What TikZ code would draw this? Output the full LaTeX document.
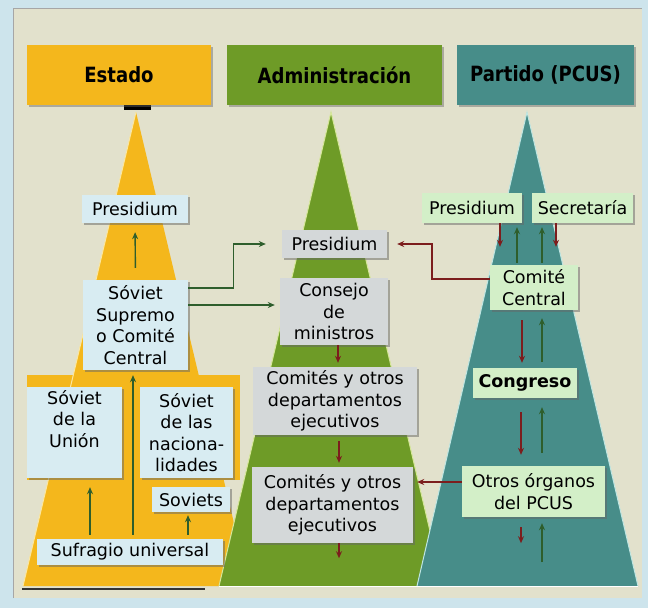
\documentclass[tikz,border=0pt]{standalone}
\usepackage{fontspec}
\setmainfont{DejaVu Sans}
\newfontfamily\hdrfont{DejaVu Sans}[FakeStretch=0.86]
\usetikzlibrary{arrows.meta,shadows,calc}
\definecolor{bgblue}{HTML}{CDE4EC}
\definecolor{panel}{HTML}{E2E1CC}
\definecolor{estyel}{HTML}{F4B71C}
\definecolor{admgrn}{HTML}{6E9B27}
\definecolor{parteal}{HTML}{478D89}
\definecolor{boxblue}{HTML}{D8ECF2}
\definecolor{boxgray}{HTML}{D4D8D9}
\definecolor{boxgreen}{HTML}{D3EFC8}
\definecolor{arrgreen}{HTML}{2E5E2C}
\definecolor{arrred}{HTML}{7C1D1D}
\definecolor{yelline}{HTML}{FBE7A0}
\definecolor{grnline}{HTML}{D6E79A}
\definecolor{tealline}{HTML}{BFE6E2}
\begin{document}
\begin{tikzpicture}[x=1pt,y=-1pt,
  box/.style={rectangle, inner sep=0pt, align=center, font=\fontsize{17.5}{21.5}\selectfont,
    drop shadow={shadow xshift=1.5pt,shadow yshift=-1.5pt,fill=black!60,opacity=.5}},
  ebox/.style={box, fill=boxblue},
  abox/.style={box, fill=boxgray},
  pbox/.style={box, fill=boxgreen},
  hdr/.style={rectangle, inner sep=0pt, text=black,
    font=\hdrfont\bfseries\fontsize{21}{24}\selectfont,
    drop shadow={shadow xshift=2pt,shadow yshift=-2pt,fill=black!60,opacity=.45}},
  ga/.style={draw=arrgreen, line width=1.4pt, -{Stealth[length=7pt,width=6pt]}},
  ra/.style={draw=arrred, line width=1.4pt, -{Stealth[length=7pt,width=6pt]}},
]
% background
\fill[bgblue] (0,0) rectangle (648,608);
\fill[panel] (13,8) rectangle (642,598);
\draw[black!35, line width=0.6pt] (13,598) -- (13,8) -- (642,8);

% pyramids
\fill[estyel] (136,112) -- (249,586) -- (23,586) -- cycle;
\fill[estyel] (27,375) rectangle (240,480);
\draw[yelline, line width=1pt] (136,112) -- (23,586);
\draw[black!80, line width=1.6pt] (22,589) -- (205,589);
\fill[black] (124,104) rectangle (151,110);

\fill[admgrn] (331,112) -- (443,586) -- (219,586) -- cycle;
\draw[grnline, line width=1pt] (219,586) -- (331,112) -- (443,586);

\fill[parteal] (527,112) -- (638,586) -- (417,586) -- cycle;
\draw[tealline, line width=1pt] (417,586) -- (527,112) -- (638,586);
\draw[white, line width=1pt] (219,586) -- (638,586);

% headers
\node[hdr, fill=estyel, minimum width=184pt, minimum height=60pt] (hE) at (119,75) {Estado};
\node[hdr, fill=admgrn, minimum width=215pt, minimum height=60pt] (hA) at (334.5,75) {Administración};
\node[hdr, fill=parteal, minimum width=177pt, minimum height=60pt] (hP) at (545.5,75) {Partido (PCUS)};

% Estado boxes
\node[ebox, minimum width=106pt, minimum height=28pt] (ep) at (135,209) {Presidium};
\node[ebox, minimum width=105pt, minimum height=90pt] (ss) at (135.5,325) {Sóviet\\Supremo\\o Comité\\Central};
\node[ebox, minimum width=95pt, minimum height=91pt] (su) at (74.5,432.5) {Sóviet\\de la\\Unión\\\strut};
\node[ebox, minimum width=93pt, minimum height=91pt] (sn) at (186.5,432.5) {Sóviet\\de las\\naciona-\\lidades};
\node[ebox, minimum width=78pt, minimum height=25pt] (sv) at (191,499.5) {Soviets};
\node[ebox, minimum width=186pt, minimum height=26pt] (sf) at (130,552) {Sufragio universal};

% Administracion boxes
\node[abox, minimum width=105pt, minimum height=28pt] (ap) at (334.5,244) {Presidium};
\node[abox, minimum width=108pt, minimum height=67pt] (cm) at (334,311.5) {Consejo\\de\\ministros};
\node[abox, minimum width=164pt, minimum height=68pt] (c1) at (335,401) {Comités y otros\\departamentos\\ejecutivos};
\node[abox, minimum width=161pt, minimum height=76pt] (c2) at (332.5,505) {Comités y otros\\departamentos\\ejecutivos};

% Partido boxes
\node[pbox, minimum width=100pt, minimum height=30pt] (pp) at (472,208) {Presidium};
\node[pbox, minimum width=101pt, minimum height=30pt] (se) at (582.5,208) {Secretaría};
\node[pbox, minimum width=88pt, minimum height=45pt] (cc) at (534,287.5) {Comité\\Central};
\node[pbox, minimum width=104pt, minimum height=30pt] (cg) at (525,383) {\bfseries Congreso};
\node[pbox, minimum width=143pt, minimum height=51pt] (ot) at (533.5,491.5) {Otros órganos\\del PCUS};

% Estado arrows
\draw[ga, shorten <=12pt, shorten >=9pt] (ss.north) -- (ep.south);
\coordinate (ssb) at ([xshift=-2.5pt]ss.south);
\draw[ga, shorten <=4pt, shorten >=5pt] (sf.north -| ssb) -- (ssb);
\coordinate (sub) at ([xshift=15.5pt]su.south);
\draw[ga, shorten <=4pt, shorten >=9pt] (sf.north -| sub) -- (sub);
\coordinate (svb) at ([xshift=-3pt]sv.south);
\draw[ga, shorten <=4pt, shorten >=3pt] (sf.north -| svb) -- (svb);

% Estado -> Administracion
\draw[ga, shorten >=16pt] ([yshift=37pt]ss.east) -- ++(45,0) |- (ap.west);
\coordinate (ssr) at ([yshift=20pt]ss.east);
\draw[ga, shorten >=5pt] (ssr) -- (ssr -| cm.west);

% Administracion arrows
\coordinate (cmb) at ([xshift=4pt]cm.south);
\draw[ra, shorten >=4pt] (cmb) -- (cmb |- c1.north);
\coordinate (c1b) at ([xshift=4pt]c1.south);
\draw[ra, shorten <=6pt, shorten >=4pt] (c1b) -- (c1b |- c2.north);
\coordinate (c2b) at ([xshift=6.5pt]c2.south);
\coordinate (c2e) at ([yshift=-15pt]c2b);
\draw[ra] (c2b) -- (c2e);

% Partido -> Administracion
\coordinate (ccw) at ([yshift=8.5pt]cc.west);
\draw[ra, shorten >=10pt] (ccw) -- ++(-58,0) |- (ap.east);
\coordinate (otw) at ([yshift=9.5pt]ot.west);
\draw[ra, shorten >=4pt] (otw) -- (otw -| c2.east);

% Partido arrows
\coordinate (p1) at ([xshift=28pt]pp.south);
\draw[ra, shorten >=18pt] (p1) -- (p1 |- cc.north);
\coordinate (p2) at ([xshift=45pt]pp.south);
\draw[ga, shorten <=2pt, shorten >=4pt] (p2 |- cc.north) -- (p2);
\coordinate (s1) at ([xshift=-40.5pt]se.south);
\draw[ga, shorten <=2pt, shorten >=4pt] (s1 |- cc.north) -- (s1);
\coordinate (s2) at ([xshift=-26.5pt]se.south);
\draw[ra, shorten >=18pt] (s2) -- (s2 |- cc.north);
\coordinate (cc1) at ([xshift=-12pt]cc.south);
\draw[ra, shorten <=10pt, shorten >=5pt] (cc1) -- (cc1 |- cg.north);
\coordinate (cc2) at ([xshift=8pt]cc.south);
\draw[ga, shorten <=6pt, shorten >=8pt] (cc2 |- cg.north) -- (cc2);
\coordinate (cg1) at ([xshift=-4pt]cg.south);
\draw[ra, shorten <=14pt, shorten >=11pt] (cg1) -- (cg1 |- ot.north);
\coordinate (cg2) at ([xshift=17pt]cg.south);
\draw[ga, shorten <=13pt, shorten >=9pt] (cg2 |- ot.north) -- (cg2);
\coordinate (ot1) at ([xshift=-12.5pt]ot.south);
\coordinate (ot1e) at ([yshift=-26pt]ot1);
\draw[ra, shorten <=10pt] (ot1) -- (ot1e);
\coordinate (ot2) at ([xshift=8.5pt]ot.south);
\coordinate (ot2e) at ([yshift=-45pt]ot2);
\draw[ga, shorten >=6pt] (ot2e) -- (ot2);
\end{tikzpicture}
\end{document}
